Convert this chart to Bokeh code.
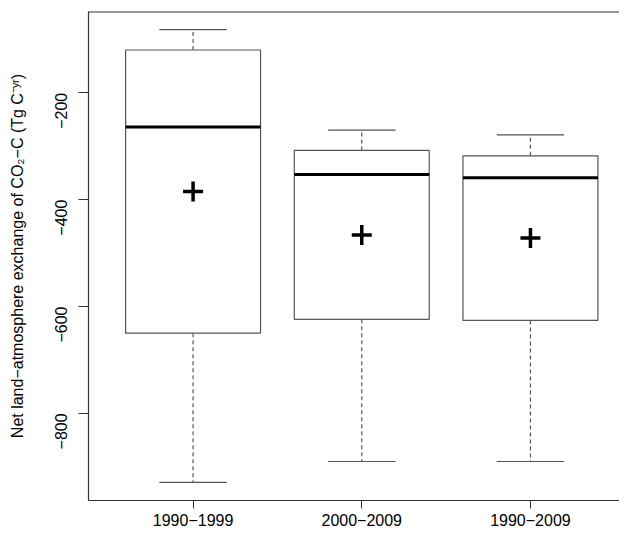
import math
from bokeh.plotting import figure
from bokeh.models import Range1d, FixedTicker, Span, ColumnDataSource
from bokeh.embed import file_html
from bokeh.resources import INLINE

# ---- data ----
categories = ["1990−1999", "2000−2009", "1990−2009"]
whisker_low = [-929, -890, -890]
q1 = [-650, -624, -626]
median = [-264, -353, -359]
q3 = [-120, -308, -318]
whisker_high = [-82, -270, -279]
mean = [-385, -466, -472]
y_ticks = [-200, -400, -600, -800]
y_tick_labels = ["−200", "−400", "−600", "−800"]
y_label = "Net land−atmosphere exchange of CO₂−C (Tg C⁻ʸʳ)"

# ---- styles ----
FONT = "Liberation Sans"
BOX_COL = "#555555"
AX_COL = "#333333"
BOX_W = 0.8
CAP_W = 0.4

pos = list(range(1, len(categories) + 1))
src = ColumnDataSource(dict(
    x=pos,
    xl=[p - BOX_W / 2 for p in pos],
    xr=[p + BOX_W / 2 for p in pos],
    cl=[p - CAP_W / 2 for p in pos],
    cr=[p + CAP_W / 2 for p in pos],
    lo=whisker_low, q1=q1, med=median, q3=q3, hi=whisker_high, mean=mean,
))

p = figure(width=619, height=528, output_backend="svg", toolbar_location=None,
           x_range=Range1d(0.38, 3.528), y_range=Range1d(-963, -48),
           min_border_left=88, min_border_top=11, min_border_right=0, min_border_bottom=27)
p.outline_line_color = None
p.grid.visible = False
p.background_fill_color = "white"
p.border_fill_color = "white"

# whiskers (dashed)
p.segment(x0="x", y0="q3", x1="x", y1="hi", source=src, line_color=BOX_COL,
          line_width=1.2, line_dash="4 3")
p.segment(x0="x", y0="q1", x1="x", y1="lo", source=src, line_color=BOX_COL,
          line_width=1.2, line_dash="4 3")
# caps
p.segment(x0="cl", y0="hi", x1="cr", y1="hi", source=src, line_color=BOX_COL, line_width=1.2)
p.segment(x0="cl", y0="lo", x1="cr", y1="lo", source=src, line_color=BOX_COL, line_width=1.2)
# boxes
p.quad(left="xl", right="xr", bottom="q1", top="q3", source=src,
       fill_color="white", line_color=BOX_COL, line_width=1.2)
# medians
p.segment(x0="xl", y0="med", x1="xr", y1="med", source=src, line_color="black", line_width=3)
# means
p.scatter(x="x", y="mean", source=src, marker="cross", size=20, line_width=3.5,
          line_color="black")

# top border line
p.add_layout(Span(location=p.y_range.end, dimension="width", line_color=AX_COL, line_width=2))

# axes
xa = p.xaxis[0]
xa.ticker = FixedTicker(ticks=pos)
xa.major_label_overrides = {pp: c for pp, c in zip(pos, categories)}
xa.minor_tick_line_color = None
xa.major_tick_in = 0
xa.major_tick_out = 8
xa.major_label_standoff = 5
xa.axis_line_color = AX_COL
xa.axis_line_width = 1.2
xa.major_tick_line_color = AX_COL
xa.major_label_text_font = FONT
xa.major_label_text_font_size = "16px"
xa.major_label_text_color = "black"

ya = p.yaxis[0]
ya.ticker = FixedTicker(ticks=y_ticks)
ya.major_label_overrides = {t: l for t, l in zip(y_ticks, y_tick_labels)}
ya.major_label_orientation = math.pi / 2
ya.minor_tick_line_color = None
ya.major_tick_in = 0
ya.major_tick_out = 10
ya.major_label_standoff = 17
ya.axis_line_color = AX_COL
ya.axis_line_width = 1.2
ya.major_tick_line_color = AX_COL
ya.major_label_text_font = FONT
ya.major_label_text_font_size = "16px"
ya.major_label_text_color = "black"
ya.axis_label = y_label
ya.axis_label_text_font = FONT
ya.axis_label_text_font_size = "16px"
ya.axis_label_text_font_style = "normal"
ya.axis_label_text_color = "black"
ya.axis_label_standoff = 21

open("out.html", "w").write(file_html(p, INLINE))
